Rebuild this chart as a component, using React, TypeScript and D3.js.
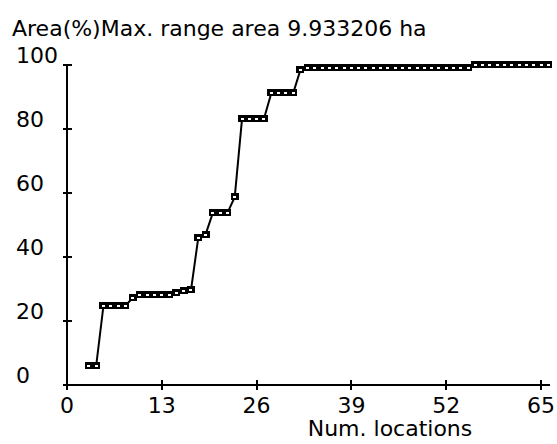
import React from "react";
import * as d3 from "d3";

const numLocations: number[] = [
  3, 4, 5, 6, 7, 8, 9, 10, 11, 12, 13, 14, 15, 16, 17, 18, 19, 20, 21, 22, 23,
  24, 25, 26, 27, 28, 29, 30, 31, 32, 33, 34, 35, 36, 37, 38, 39, 40, 41, 42,
  43, 44, 45, 46, 47, 48, 49, 50, 51, 52, 53, 54, 55, 56, 57, 58, 59, 60, 61,
  62, 63, 64, 65, 66,
];
const areaPct: number[] = [
  6, 6, 24.8, 24.8, 24.8, 24.8, 27.2, 28, 28, 28, 28, 28, 28.7, 29.3, 29.6,
  46, 47, 53.8, 53.8, 53.8, 58.7, 83.1, 83.1, 83.1, 83.1, 91.1, 91.1, 91.1,
  91.1, 98.4, 99.1, 99.1, 99.1, 99.1, 99.1, 99.1, 99.1, 99.1, 99.1, 99.1,
  99.1, 99.1, 99.1, 99.1, 99.1, 99.1, 99.1, 99.1, 99.1, 99.1, 99.1, 99.1,
  99.1, 100, 100, 100, 100, 100, 100, 100, 100, 100, 100, 100,
];
const xTicks: number[] = [0, 13, 26, 39, 52, 65];
const yTicks: number[] = [0, 20, 40, 60, 80, 100];
const title = "Area(%)Max. range area 9.933206 ha";
const xTitle = "Num. locations";

export default function App() {
  const W = 557;
  const H = 444;
  const x = d3.scaleLinear().domain([0, 65]).range([67, 541]);
  const y = d3.scaleLinear().domain([0, 100]).range([385, 65]);
  const pts = numLocations.map((n, i) => [x(n), y(areaPct[i])] as [number, number]);
  const line = d3.line()(pts) || "";
  const font = "'DejaVu Sans', sans-serif";
  return (
    <svg
      width={W}
      height={H}
      style={{ position: "fixed", left: 0, top: 0, background: "#fff" }}
      fontFamily={font}
    >
      <rect x={0} y={0} width={W} height={H} fill="#fff" />
      <text x={12} y={36} fontSize={22} fill="#000">{title}</text>
      {/* y axis */}
      <line x1={67} x2={67} y1={y(100)} y2={y(0)} stroke="#000" strokeWidth={2} shapeRendering="crispEdges" />
      {yTicks.map((t) => (
        <g key={"y" + t}>
          <line x1={63} x2={72} y1={y(t)} y2={y(t)} stroke="#000" strokeWidth={2} shapeRendering="crispEdges" />
          <text x={16} y={y(t) - 2} fontSize={22} fill="#000">{t}</text>
        </g>
      ))}
      {/* x axis */}
      <line x1={63} x2={550} y1={y(0)} y2={y(0)} stroke="#000" strokeWidth={2} shapeRendering="crispEdges" />
      {xTicks.map((t) => (
        <g key={"x" + t}>
          <line x1={x(t)} x2={x(t)} y1={380} y2={390} stroke="#000" strokeWidth={2} shapeRendering="crispEdges" />
          <text x={x(t)} y={413} fontSize={22} textAnchor="middle" fill="#000">{t}</text>
        </g>
      ))}
      <text x={390} y={436} fontSize={22} textAnchor="middle" fill="#000">{xTitle}</text>
      {/* data */}
      <path d={line} fill="none" stroke="#000" strokeWidth={2} />
      {pts.map(([px, py], i) => (
        <g key={"m" + i} shapeRendering="crispEdges">
          <rect x={px - 4} y={py - 4} width={8} height={7} fill="#000" />
          <rect x={px - 1.5} y={py - 1} width={3} height={2} fill="#fff" />
        </g>
      ))}
    </svg>
  );
}
